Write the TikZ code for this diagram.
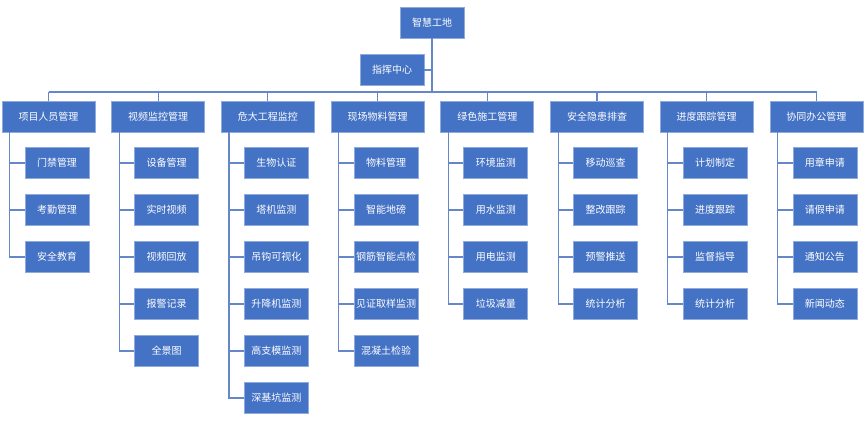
\documentclass[tikz,border=0pt]{standalone}
\usepackage{fontspec}
\newfontfamily\cjk{Noto Sans CJK SC}
\definecolor{boxfill}{HTML}{4472C4}
\definecolor{boxline}{HTML}{8FAADC}
\definecolor{conn}{HTML}{6587C9}
\tikzset{
  box/.style={draw=boxline, line width=0.8pt, fill=boxfill, text=white, inner sep=0pt,
    minimum height=31pt, font=\cjk\fontsize{10}{12}\selectfont},
  topbox/.style={box, minimum width=64pt},
  catbox/.style={box, minimum width=93pt},
  leafbox/.style={box, minimum width=64pt},
  link/.style={draw=conn, line width=1.1pt}
}
\begin{document}
\begin{tikzpicture}[x=1pt,y=-1pt]
\useasboundingbox (0,0) rectangle (865,421);
\node[topbox] (top) at (432,22.5) {智慧工地};
\node[topbox] (zh) at (392,70) {指挥中心};
\coordinate (bL) at (48.5,92);
\coordinate (bR) at (816.5,92);
\draw[link] (bL) -- (bR);
\draw[link] (top.south) -- (top.south |- bL);
\draw[link] (zh.east) -- (zh.east -| top.south);
\foreach [count=\i] \name/\kids in {
  项目人员管理/{门禁管理,考勤管理,安全教育},
  视频监控管理/{设备管理,实时视频,视频回放,报警记录,全景图},
  危大工程监控/{生物认证,塔机监测,吊钩可视化,升降机监测,高支模监测,深基坑监测},
  现场物料管理/{物料管理,智能地磅,钢筋智能点检,见证取样监测,混凝土检验},
  绿色施工管理/{环境监测,用水监测,用电监测,垃圾减量},
  安全隐患排查/{移动巡查,整改跟踪,预警推送,统计分析},
  进度跟踪管理/{计划制定,进度跟踪,监督指导,统计分析},
  协同办公管理/{用章申请,请假申请,通知公告,新闻动态}} {
  \pgfmathsetmacro{\cx}{48.5+109.7*(\i-1)}
  \node[catbox] (c\i) at (\cx,116.5) {\name};
  \draw[link] (c\i.north) -- (c\i.north |- bL);
  \foreach [count=\j] \k in \kids {
    \node[leafbox] (c\i-\j) at (\cx-46.5+23+32,163+47*\j-47) {\k};
    \draw[link] ([xshift=8pt]c\i.south west) |- (c\i-\j.west);
  }
}
\end{tikzpicture}
\end{document}
